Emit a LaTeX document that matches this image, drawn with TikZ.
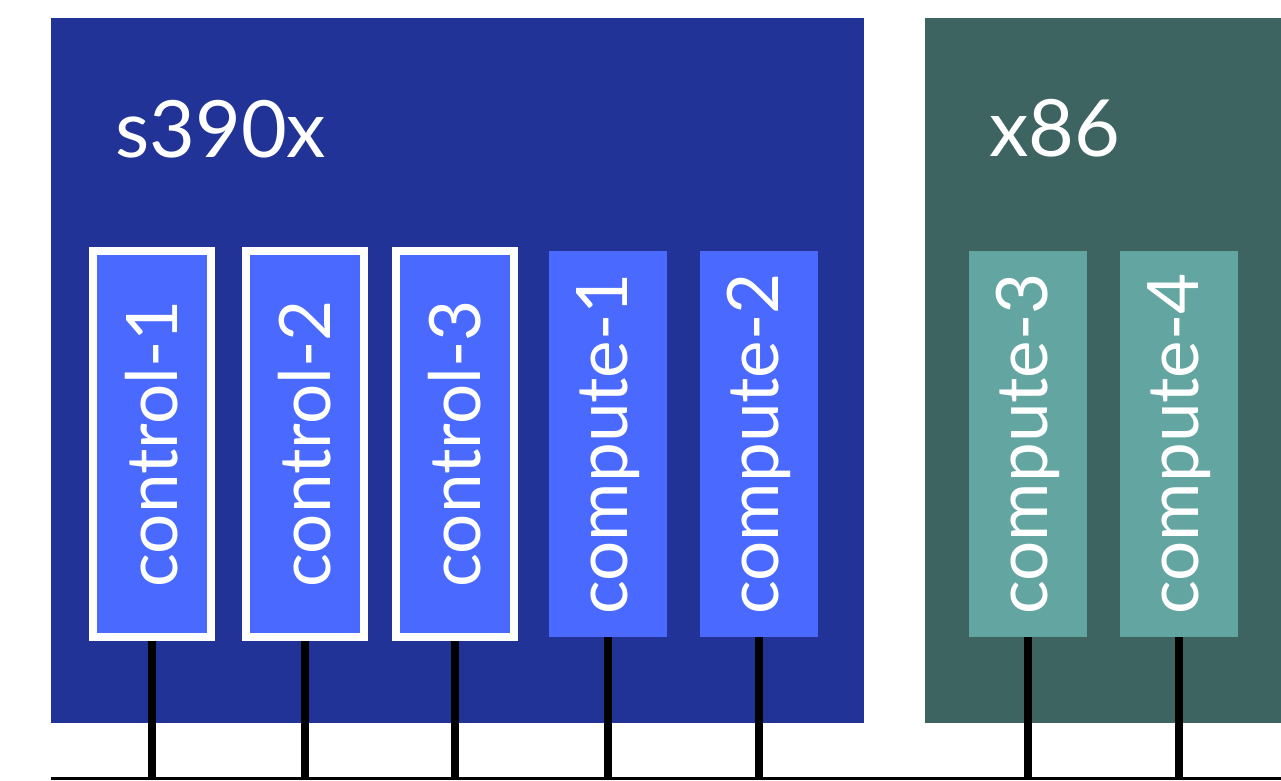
\documentclass[tikz,border=0pt]{standalone}
\usepackage{fontspec}
\setsansfont{Lato}
\definecolor{zbg}{HTML}{213396}
\definecolor{zbox}{HTML}{4A6AFF}
\definecolor{xbg}{HTML}{3D6461}
\definecolor{xbox}{HTML}{62A5A1}
\tikzset{
  host/.style={rotate=90,minimum width=386pt,minimum height=118pt,inner sep=0pt,
    text=white,font=\sffamily\fontsize{71}{74}\selectfont},
  ctl/.style={host,fill=zbox,draw=white,line width=8pt},
  zcomp/.style={host,fill=zbox},
  xcomp/.style={host,fill=xbox},
  arch/.style={anchor=base west,text=white,inner sep=0pt,font=\sffamily\fontsize{79}{82}\selectfont},
  wire/.style={line width=8pt},
  bus/.style={line width=3pt}
}
\begin{document}
\begin{tikzpicture}[x=1pt,y=-1pt]
\useasboundingbox (0,0) rectangle (1281,780);
\fill[zbg] (51,18) rectangle (864,723);
\fill[xbg] (925,18) rectangle (1281,723);
\node (Z) at (115,157)[arch] {s390x};
\node (X) at (989,156)[arch] {x86};
\node (C1) at (152,444)[ctl] {control-1};
\node (C2) at (304.5,444)[ctl] {control-2};
\node (C3) at (454.5,444)[ctl] {control-3};
\node (K1) at (608,444)[zcomp] {compute-1};
\node (K2) at (759,444)[zcomp] {compute-2};
\node (K3) at (1028,444)[xcomp] {compute-3};
\node (K4) at (1179,444)[xcomp] {compute-4};
\coordinate (busL) at (51,778.5);
\coordinate (busR) at (1281,778.5);
\draw[bus] (busL) -- (busR);
\foreach \n in {C1,C2,C3,K1,K2,K3,K4}
  \draw[wire] (\n.west) -- (\n.west |- busL);
\end{tikzpicture}
\end{document}
